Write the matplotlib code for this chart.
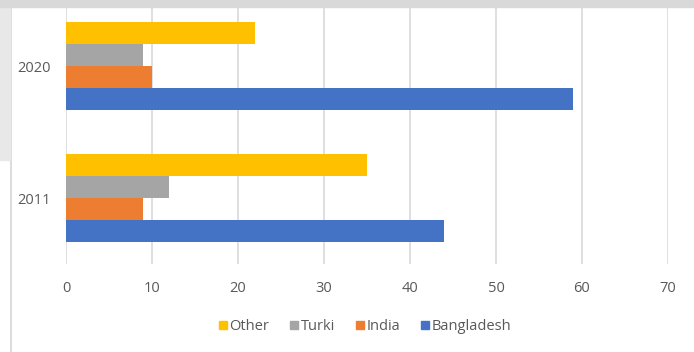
import matplotlib

matplotlib.use("Agg")

import matplotlib.pyplot as plt
import numpy as np
from matplotlib.lines import Line2D
from matplotlib.patches import Rectangle

years = ["2011", "2020"]
series = ["Bangladesh", "India", "Turki", "Other"]
bangladesh = [44, 59]
india = [9, 10]
turki = [12, 9]
other = [35, 22]
x_ticks = [0, 10, 20, 30, 40, 50, 60, 70]

colours = {
    "Bangladesh": "#4472C4",
    "India": "#ED7D31",
    "Turki": "#A5A5A5",
    "Other": "#FFC000",
}

plt.rcParams["font.family"] = ["Open Sans", "DejaVu Sans"]
FS = 10.5

fig = plt.figure(figsize=(6.94, 3.52), dpi=100)
fig.set_facecolor("white")
ax = fig.add_axes((66 / 694, 0.25, 602 / 694, 0.75))

values = [bangladesh, india, turki, other]
h = 0.1667
pos = np.arange(len(years))
for n, (name, vals) in enumerate(zip(series, values)):
    ax.barh(pos + (n - 1.5) * h, vals, height=h, color=colours[name], zorder=3)

ax.set_xlim(0, 70)
ax.set_ylim(-0.5, 1.5)
ax.set_xticks(x_ticks)
ax.set_yticks(pos)
ax.set_yticklabels(years)
ax.grid(axis="x", color="#d9d9d9", linewidth=1.2, zorder=0)
ax.tick_params(axis="both", length=0, labelsize=FS, labelcolor="#595959")
ax.tick_params(axis="x", pad=12)
ax.tick_params(axis="y", pad=11)
for s in ax.spines.values():
    s.set_visible(False)

# legend in the same order as the bars, top to bottom
handles = [
    Line2D([], [], marker="s", linestyle="", markersize=6,
           markerfacecolor=colours[k], markeredgecolor=colours[k])
    for k in ["Other", "Turki", "India", "Bangladesh"]
]
fig.legend(handles, ["Other", "Turki", "India", "Bangladesh"], loc="center",
           bbox_to_anchor=(364 / 694, 1 - 327 / 352), ncol=4, frameon=False,
           fontsize=FS, labelcolor="#595959", handletextpad=0.05,
           columnspacing=1.3, handlelength=0.8)

# window frame around the chart
W, H = 694, 352
fig.patches.append(Rectangle((0, 1 - 7 / H), 1, 7 / H, transform=fig.transFigure,
                             color="#d9d9d9", zorder=10))
fig.patches.append(Rectangle((0, 1 - 160 / H), 10 / W, 160 / H,
                             transform=fig.transFigure, color="#e8e8e8", zorder=9))
fig.lines.append(Line2D([11 / W, 11 / W], [0, 1], transform=fig.transFigure,
                        color="#d6d6d6", linewidth=1.2, zorder=9))

fig.savefig("out.png", dpi=100)
